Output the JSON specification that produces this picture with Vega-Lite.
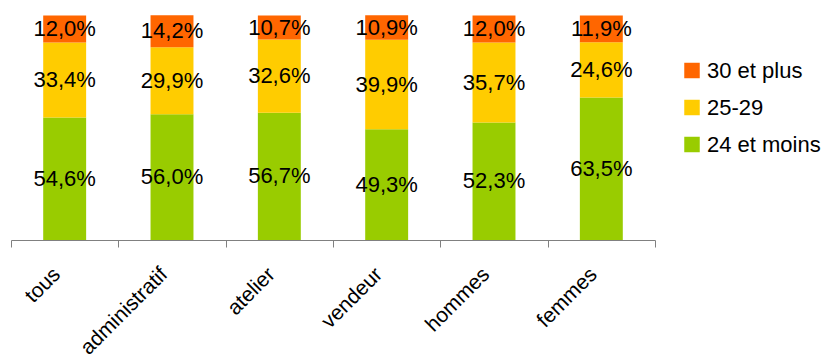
{
  "$schema": "https://vega.github.io/schema/vega-lite/v6.json",
  "width": 644,
  "height": 224.5,
  "autosize": "none",
  "padding": {"left": 11, "top": 15.5, "right": 169, "bottom": 123},
  "config": {
    "view": {"stroke": null},
    "font": "Liberation Sans",
    "locale": {"number": {"decimal": ",", "thousands": "\u00a0", "grouping": [3], "currency": ["", "%"]}}
  },
  "data": {
    "values": [
      {"groupe": "tous", "age": "24 et moins", "pct": 54.6},
      {"groupe": "tous", "age": "25-29", "pct": 33.4},
      {"groupe": "tous", "age": "30 et plus", "pct": 12.0},
      {"groupe": "administratif", "age": "24 et moins", "pct": 56.0},
      {"groupe": "administratif", "age": "25-29", "pct": 29.9},
      {"groupe": "administratif", "age": "30 et plus", "pct": 14.2},
      {"groupe": "atelier", "age": "24 et moins", "pct": 56.7},
      {"groupe": "atelier", "age": "25-29", "pct": 32.6},
      {"groupe": "atelier", "age": "30 et plus", "pct": 10.7},
      {"groupe": "vendeur", "age": "24 et moins", "pct": 49.3},
      {"groupe": "vendeur", "age": "25-29", "pct": 39.9},
      {"groupe": "vendeur", "age": "30 et plus", "pct": 10.9},
      {"groupe": "hommes", "age": "24 et moins", "pct": 52.3},
      {"groupe": "hommes", "age": "25-29", "pct": 35.7},
      {"groupe": "hommes", "age": "30 et plus", "pct": 12.0},
      {"groupe": "femmes", "age": "24 et moins", "pct": 63.5},
      {"groupe": "femmes", "age": "25-29", "pct": 24.6},
      {"groupe": "femmes", "age": "30 et plus", "pct": 11.9}
    ]
  },
  "encoding": {
    "x": {
      "field": "groupe",
      "type": "nominal",
      "sort": ["tous", "administratif", "atelier", "vendeur", "hommes", "femmes"],
      "scale": {"paddingInner": 0, "paddingOuter": 0},
      "axis": {
        "title": null,
        "domainColor": "#808080",
        "domainWidth": 1,
        "tickColor": "#808080",
        "tickSize": 7,
        "tickBand": "extent",
        "labelAngle": -45,
        "labelAlign": "right",
        "labelBaseline": "middle",
        "labelFontSize": 21,
        "labelColor": "#000000",
        "labelPadding": 24,
        "labelOffset": -8,
        "grid": false
      }
    }
  },
  "layer": [
    {
      "mark": {"type": "bar", "width": {"band": 0.4}},
      "encoding": {
        "y": {"field": "pct", "type": "quantitative", "stack": "zero", "scale": {"domain": [0, 100]}, "axis": null},
        "order": {"field": "age", "type": "nominal", "sort": "ascending"},
        "color": {
          "field": "age",
          "type": "nominal",
          "scale": {"domain": ["30 et plus", "25-29", "24 et moins"], "range": ["#FF6600", "#FFCC00", "#99CC00"]},
          "legend": {
            "title": null,
            "orient": "none",
            "legendX": 670,
            "legendY": 44,
            "padding": 0,
            "symbolType": "square",
            "symbolSize": 240,
            "symbolStrokeWidth": 0,
            "labelFontSize": 22,
            "labelColor": "#000000",
            "labelOffset": 4,
            "rowPadding": 15
          }
        }
      }
    },
    {
      "mark": {"type": "text", "fontSize": 22, "color": "#000000"},
      "encoding": {
        "y": {"field": "pct", "type": "quantitative", "stack": "zero", "bandPosition": 0.5},
        "detail": {"field": "age", "type": "nominal"},
        "order": {"field": "age", "type": "nominal", "sort": "ascending"},
        "text": {"field": "pct", "type": "quantitative", "format": "$.1f"}
      }
    }
  ]
}
